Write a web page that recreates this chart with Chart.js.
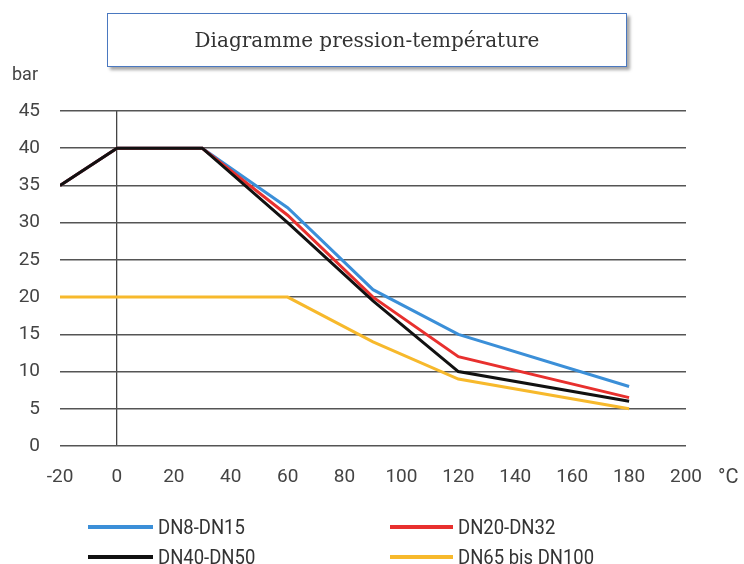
<!DOCTYPE html>
<html>
<head>
<meta charset="utf-8">
<script src="https://cdn.jsdelivr.net/npm/chart.js@4.4.1/dist/chart.umd.min.js"></script>
<style>
  html, body { margin: 0; padding: 0; background: #fff; }
  #wrap { position: relative; width: 744px; height: 564px; }
  #chart { position: absolute; left: 0; top: 0; }
  #title {
    position: absolute; left: 107px; top: 13px; width: 518px; height: 52px;
    border: 1.5px solid #4a78c0; box-shadow: 3px 3px 3px rgba(0,0,0,0.35);
    font-family: "DejaVu Serif", serif; font-size: 20px; color: #333;
    display: flex; align-items: center; justify-content: center; background: #fff;
  }
  .unit { position: absolute; font-family: Roboto, sans-serif; color: #444; white-space: nowrap; }
  #legend { position: absolute; left: 0; top: 0; font-family: Roboto, sans-serif; font-size: 21px; color: #333; }
  .item { position: absolute; display: flex; align-items: center; white-space: nowrap; }
  .swatch { height: 3.5px; margin-right: 5px; }
  .label { display: inline-block; transform: scaleX(0.88); transform-origin: left center; }
</style>
</head>
<body>
<div id="wrap">
  <canvas id="chart" width="744" height="564"></canvas>
  <div id="title">Diagramme pression-température</div>
  <div class="unit" style="left:12px; top:63px; font-size:18px;">bar</div>
  <div class="unit" style="left:718px; top:464px; font-size:20px;">°C</div>
  <div id="legend"></div>
</div>
<script>
// data
const seriesNames = ["DN8-DN15", "DN20-DN32", "DN40-DN50", "DN65 bis DN100"];
const seriesColors = ["#3b8fd8", "#e8302e", "#111111", "#f7b92c"];

const tempDN8 = [-20, 0, 30, 60, 90, 120, 180];
const barDN8 = [35, 40, 40, 32, 21, 15, 8];

const tempDN20 = [-20, 0, 30, 60, 90, 120, 180];
const barDN20 = [35, 40, 40, 31, 20, 12, 6.5];

const tempDN40 = [-20, 0, 30, 60, 90, 120, 180];
const barDN40 = [35, 40, 40, 30, 19.5, 10, 6];

const tempDN65 = [-20, 60, 90, 120, 180];
const barDN65 = [20, 20, 14, 9, 5];

const xTicks = [-20, 0, 20, 40, 60, 80, 100, 120, 140, 160, 180, 200];
const yTicks = [0, 5, 10, 15, 20, 25, 30, 35, 40, 45];

function toPoints(xs, ys) {
  return xs.map((x, i) => ({ x: x, y: ys[i] }));
}

const tickFont = { family: "Roboto, sans-serif", size: 19 };

const datasets = [
  { label: seriesNames[0], data: toPoints(tempDN8, barDN8), borderColor: seriesColors[0], order: 2 },
  { label: seriesNames[1], data: toPoints(tempDN20, barDN20), borderColor: seriesColors[1], order: 1 },
  { label: seriesNames[2], data: toPoints(tempDN40, barDN40), borderColor: seriesColors[2], order: 0 },
  { label: seriesNames[3], data: toPoints(tempDN65, barDN65), borderColor: seriesColors[3], order: 3 },
].map((d) => Object.assign(d, { borderWidth: 3, pointRadius: 0, tension: 0, fill: false }));

const chart = new Chart(document.getElementById("chart"), {
  type: "line",
  data: { datasets: datasets },
  options: {
    responsive: false,
    animation: false,
    layout: { padding: { left: 0, right: 58, top: 111, bottom: 0 } },
    plugins: { legend: { display: false }, title: { display: false }, tooltip: { enabled: false } },
    scales: {
      x: {
        type: "linear",
        min: -20,
        max: 200,
        afterBuildTicks: (axis) => { axis.ticks = xTicks.map((v) => ({ value: v })); },
        afterFit: (axis) => { axis.height = 118; },
        border: { display: false },
        grid: {
          drawTicks: false,
          color: (ctx) => (ctx.tick && ctx.tick.value === 0 ? "#444" : "rgba(0,0,0,0)"),
          lineWidth: 1.3,
        },
        ticks: { color: "#444", font: tickFont, padding: 20, maxRotation: 0 },
      },
      y: {
        min: 0,
        max: 45,
        afterBuildTicks: (axis) => { axis.ticks = yTicks.map((v) => ({ value: v })); },
        afterFit: (axis) => { axis.width = 60; },
        border: { display: false },
        grid: { drawTicks: false, color: "#555", lineWidth: 1.5 },
        ticks: { color: "#444", font: tickFont, padding: 20 },
      },
    },
  },
});

// legend in two columns
const legendPos = [[88, 527], [390, 527], [88, 557], [390, 557]];
const legend = document.getElementById("legend");
chart.data.datasets.forEach((ds, i) => {
  const item = document.createElement("div");
  item.className = "item";
  item.style.left = legendPos[i][0] + "px";
  item.style.top = (legendPos[i][1] - 13) + "px";
  item.style.height = "26px";
  const sw = document.createElement("span");
  sw.className = "swatch";
  sw.style.background = ds.borderColor;
  sw.style.width = (i % 2 === 0 ? 65 : 63) + "px";
  const txt = document.createElement("span");
  txt.className = "label";
  txt.innerText = ds.label;
  item.appendChild(sw);
  item.appendChild(txt);
  legend.appendChild(item);
});
</script>
</body>
</html>
